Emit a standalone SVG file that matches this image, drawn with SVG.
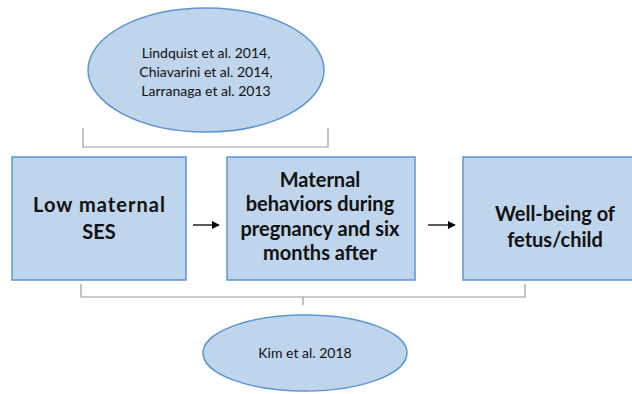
<svg xmlns="http://www.w3.org/2000/svg" width="632" height="394" viewBox="0 0 632 394">
<style>
.node{fill:#bed5ec;stroke:#5d95d2;stroke-width:1.5}
.bt{font-family:Lato,"Liberation Sans",Arial,sans-serif;font-weight:bold;font-size:20px;fill:#111;text-anchor:middle}
.st{font-family:Lato,"Liberation Sans",Arial,sans-serif;font-size:14px;fill:#111;text-anchor:middle}
.br{fill:none;stroke:#9a9a9a;stroke-width:1.2}
.ar{stroke:#000;stroke-width:1.3;fill:none}
</style>
<defs>
<marker id="ah" viewBox="0 0 10 10" refX="9" refY="5" markerWidth="8" markerHeight="8" markerUnits="userSpaceOnUse" orient="auto">
<path d="M0,0 L10,5 L0,10 z" fill="#000"/>
</marker>
</defs>
<rect width="632" height="394" fill="#fff"/>
<g id="ref-top">
<ellipse class="node" cx="206" cy="70" rx="118" ry="62"/>
<text class="st" x="206" y="58">Lindquist et al. 2014,</text>
<text class="st" x="206" y="77">Chiavarini et al. 2014,</text>
<text class="st" x="206" y="96">Larranaga et al. 2013</text>
</g>
<g id="box1">
<rect class="node" x="12" y="157" width="174" height="123"/>
<text class="bt" x="99" y="212" textLength="132" lengthAdjust="spacing">Low maternal</text>
<text class="bt" x="99" y="239">SES</text>
</g>
<g id="box2">
<rect class="node" x="227" y="157" width="188" height="123"/>
<text class="bt" x="320" y="187">Maternal</text>
<text class="bt" x="320" y="211">behaviors during</text>
<text class="bt" x="320" y="236">pregnancy and six</text>
<text class="bt" x="320" y="260">months after</text>
</g>
<g id="box3">
<rect class="node" x="463" y="157" width="200" height="123"/>
<text class="bt" x="555" y="221">Well-being of</text>
<text class="bt" x="555" y="247">fetus/child</text>
</g>
<g id="ref-bottom">
<ellipse class="node" cx="305" cy="353" rx="102" ry="38"/>
<text class="st" x="305" y="358">Kim et al. 2018</text>
</g>
<g id="connectors">
<line class="ar" x1="193" y1="225" x2="219" y2="225" marker-end="url(#ah)"/>
<line class="ar" x1="428" y1="225" x2="455" y2="225" marker-end="url(#ah)"/>
<path class="br" d="M83,128 V147 H328 V128"/>
<path class="br" d="M81,284 V297 H525 V284 M303,297 V305"/>
</g>
</svg>
